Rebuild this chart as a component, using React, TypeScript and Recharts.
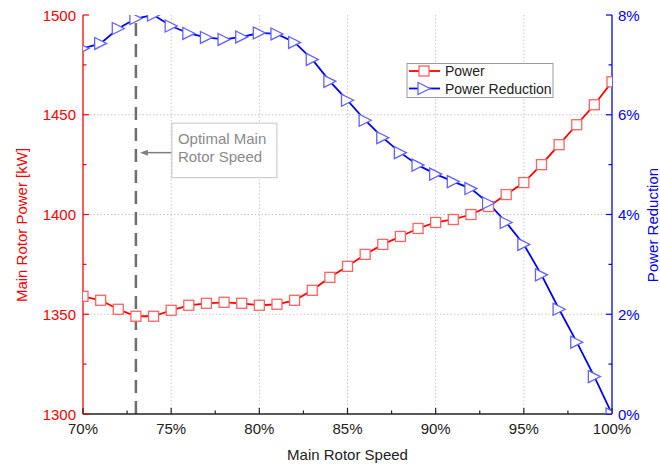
import React from 'react';
import {
  ComposedChart,
  Line,
  XAxis,
  YAxis,
  CartesianGrid,
  ReferenceLine,
  ReferenceDot,
  Label,
} from 'recharts';

// ---- data ----
const speeds = [70, 71, 72, 73, 74, 75, 76, 77, 78, 79, 80, 81, 82, 83, 84, 85, 86, 87, 88, 89, 90, 91, 92, 93, 94, 95, 96, 97, 98, 99, 100];
const power = [1359, 1357, 1352.5, 1349, 1349, 1352, 1354.5, 1355.5, 1356, 1355.5, 1354.5, 1355, 1357, 1362, 1368.5, 1374, 1380, 1385, 1389, 1393, 1396, 1397.5, 1400, 1404, 1410, 1416, 1425, 1435, 1445, 1455, 1466.5];
const reduction = [7.33, 7.43, 7.73, 7.93, 8.0, 7.78, 7.63, 7.55, 7.51, 7.56, 7.64, 7.62, 7.45, 7.11, 6.67, 6.29, 5.89, 5.54, 5.24, 4.99, 4.81, 4.66, 4.52, 4.23, 3.84, 3.4, 2.79, 2.1, 1.44, 0.75, 0];

const xTicks = [70, 72.5, 75, 77.5, 80, 82.5, 85, 87.5, 90, 92.5, 95, 97.5, 100];
const leftTicks = [1300, 1325, 1350, 1375, 1400, 1425, 1450, 1475, 1500];
const rightTicks = [0, 1, 2, 3, 4, 5, 6, 7, 8];
const gridX = [75, 80, 85, 90, 95];
const gridY = [1350, 1400, 1450];
const optimalSpeed = 73;
const annotationPower = 1431;
const annotationLines = ['Optimal Main', 'Rotor Speed'];

const data = speeds.map((s, i) => ({ speed: s, power: power[i], reduction: reduction[i] }));

const FONT = '"Liberation Sans", Arial, Helvetica, sans-serif';
const RED = '#ff0000';
const BLUE = '#0000ff';
const DARK = '#222222';

// ---- ticks ----
const BottomTick = (props: any) => {
  const { x, y, payload } = props;
  const v = payload.value;
  const major = v % 5 === 0;
  return (
    <g>
      <line x1={x} y1={y} x2={x} y2={y - (major ? 6 : 3.5)} stroke={DARK} strokeWidth={1.2} />
      {major && (
        <text x={x} y={y + 20} textAnchor="middle" fontSize={15} fontFamily={FONT} fill={DARK}>
          {`${v}%`}
        </text>
      )}
    </g>
  );
};

const TopTick = (props: any) => {
  const { x, y, payload } = props;
  const v = payload.value;
  const major = v % 5 === 0;
  return <line x1={x} y1={y} x2={x} y2={y + (major ? 6 : 3.5)} stroke={DARK} strokeWidth={1.2} />;
};

const LeftTick = (props: any) => {
  const { x, y, payload } = props;
  const v = payload.value;
  const major = v % 50 === 0;
  return (
    <g>
      <line x1={x} y1={y} x2={x + (major ? 6 : 3.5)} y2={y} stroke={RED} strokeWidth={1.2} />
      {major && (
        <text x={x - 7} y={y + 5.5} textAnchor="end" fontSize={15} fontFamily={FONT} fill={RED}>
          {v}
        </text>
      )}
    </g>
  );
};

const RightTick = (props: any) => {
  const { x, y, payload } = props;
  const v = payload.value;
  const major = v % 2 === 0;
  return (
    <g>
      <line x1={x} y1={y} x2={x - (major ? 6 : 3.5)} y2={y} stroke={BLUE} strokeWidth={1.2} />
      {major && (
        <text x={x + 6} y={y + 5.5} textAnchor="start" fontSize={15} fontFamily={FONT} fill={BLUE}>
          {`${v}%`}
        </text>
      )}
    </g>
  );
};

// ---- markers ----
const SquareDot = (p: any) => {
  if (p.cx == null || p.cy == null) return <g key={p.index} />;
  return (
    <rect key={p.index} x={p.cx - 5} y={p.cy - 5} width={10} height={10} fill="#ffffff" stroke="#ff6262" strokeWidth={1.3} />
  );
};

const TriDot = (p: any) => {
  if (p.cx == null || p.cy == null) return <g key={p.index} />;
  const { cx, cy } = p;
  return (
    <polygon
      key={p.index}
      points={`${cx - 6},${cy - 6} ${cx - 6},${cy + 6} ${cx + 6},${cy}`}
      fill="#ffffff"
      stroke="#6262ff"
      strokeWidth={1.3}
    />
  );
};

// ---- annotation ----
const Annotation = (p: any) => {
  const { cx, cy } = p;
  if (cx == null || cy == null) return <g />;
  return (
    <g>
      <polygon points={`${cx + 4},${cy} ${cx + 12},${cy - 3} ${cx + 12},${cy + 3}`} fill="#808080" />
      <line x1={cx + 10} y1={cy} x2={cx + 36} y2={cy} stroke="#808080" strokeWidth={1.5} />
      <rect x={cx + 36} y={cy - 29.5} width={105} height={54.5} fill="#ffffff" stroke="#c4c4c4" strokeWidth={1} />
      <text x={cx + 42} y={cy - 9} fontSize={15} fontFamily={FONT} fill="#8a8a8a">
        {annotationLines[0]}
      </text>
      <text x={cx + 42} y={cy + 9.5} fontSize={15} fontFamily={FONT} fill="#8a8a8a">
        {annotationLines[1]}
      </text>
    </g>
  );
};

// ---- axis titles ----
const XTitle = (p: any) => {
  const vb = p.viewBox || { x: 83, y: 414, width: 529, height: 52 };
  return (
    <text x={vb.x + vb.width / 2} y={vb.y + 46} textAnchor="middle" fontSize={15} fontFamily={FONT} fill={DARK}>
      Main Rotor Speed
    </text>
  );
};

const LeftTitle = () => {
  const cx = 21;
  const cy = 225;
  return (
    <text
      x={cx}
      y={cy}
      transform={`rotate(-90, ${cx}, ${cy})`}
      textAnchor="middle"
      dominantBaseline="central"
      fontSize={15}
      fontFamily={FONT}
      fill={RED}
    >
      Main Rotor Power [kW]
    </text>
  );
};

const RightTitle = () => {
  const cx = 652;
  const cy = 225;
  return (
    <text
      x={cx}
      y={cy}
      transform={`rotate(-90, ${cx}, ${cy})`}
      textAnchor="middle"
      dominantBaseline="central"
      fontSize={15}
      fontFamily={FONT}
      fill={BLUE}
    >
      Power Reduction
    </text>
  );
};

// ---- legend overlay ----
const LegendBox = () => (
  <svg width={660} height={466} style={{ position: 'absolute', left: 0, top: 0, pointerEvents: 'none' }}>
    <rect x={407} y={63.5} width={146} height={34} fill="#ffffff" stroke="#9a9a9a" strokeWidth={1} />
    <line x1={409} y1={71} x2={440} y2={71} stroke={RED} strokeWidth={1.8} />
    <rect x={419} y={66} width={10} height={10} fill="#ffffff" stroke="#ff6262" strokeWidth={1.3} />
    <text x={445} y={76} fontSize={14} fontFamily={FONT} fill={DARK}>Power</text>
    <line x1={409} y1={88.5} x2={440} y2={88.5} stroke={BLUE} strokeWidth={1.8} />
    <polygon points="418,82.5 418,94.5 430,88.5" fill="#ffffff" stroke="#6262ff" strokeWidth={1.3} />
    <text x={445} y={93.5} fontSize={14} fontFamily={FONT} fill={DARK}>Power Reduction</text>
  </svg>
);

export default function App() {
  return (
    <div style={{ position: 'absolute', left: 0, top: 0, width: 660, height: 466, background: '#ffffff' }}>
      <ComposedChart
        width={660}
        height={466}
        data={data}
        margin={{ top: 15, right: 0, bottom: 0, left: 0 }}
        style={{ fontFamily: FONT }}
      >
        <CartesianGrid
          yAxisId="left"
          horizontalValues={gridY}
          verticalValues={gridX}
          stroke="#c6c6c6"
          strokeDasharray="1.5 2"
        />
        <XAxis
          dataKey="speed"
          type="number"
          domain={[70, 100]}
          ticks={xTicks}
          interval={0}
          height={52}
          tickSize={0}
          tickMargin={0}
          tickLine={false}
          tick={BottomTick}
          axisLine={{ stroke: DARK, strokeWidth: 1.3 }}
          allowDataOverflow
        >
          <Label content={XTitle} />
        </XAxis>
        <XAxis
          xAxisId="top"
          orientation="top"
          dataKey="speed"
          type="number"
          domain={[70, 100]}
          ticks={xTicks}
          interval={0}
          height={0}
          tickSize={0}
          tickMargin={0}
          tickLine={false}
          tick={TopTick}
          axisLine={{ stroke: DARK, strokeWidth: 1.3 }}
          allowDataOverflow
        />
        <YAxis
          yAxisId="left"
          type="number"
          domain={[1300, 1500]}
          ticks={leftTicks}
          interval={0}
          width={83}
          tickSize={0}
          tickMargin={0}
          tickLine={false}
          tick={LeftTick}
          axisLine={{ stroke: RED, strokeWidth: 1.3 }}
          allowDataOverflow
        >
          <Label content={LeftTitle} />
        </YAxis>
        <YAxis
          yAxisId="right"
          orientation="right"
          type="number"
          domain={[0, 8]}
          ticks={rightTicks}
          interval={0}
          width={48}
          tickSize={0}
          tickMargin={0}
          tickLine={false}
          tick={RightTick}
          axisLine={{ stroke: BLUE, strokeWidth: 1.3 }}
          allowDataOverflow
        >
          <Label content={RightTitle} />
        </YAxis>
        <ReferenceLine
          x={optimalSpeed}
          yAxisId="left"
          stroke="#6e6e6e"
          strokeWidth={2.5}
          strokeDasharray="13 8"
        />
        <Line
          yAxisId="left"
          dataKey="power"
          type="linear"
          stroke={RED}
          strokeWidth={1.8}
          dot={SquareDot}
          activeDot={false}
          isAnimationActive={false}
        />
        <Line
          yAxisId="right"
          dataKey="reduction"
          type="linear"
          stroke={BLUE}
          strokeWidth={1.8}
          dot={TriDot}
          activeDot={false}
          isAnimationActive={false}
        />
        <ReferenceDot
          x={optimalSpeed}
          y={annotationPower}
          yAxisId="left"
          r={0}
          shape={Annotation}
        />
      </ComposedChart>
      <LegendBox />
    </div>
  );
}
